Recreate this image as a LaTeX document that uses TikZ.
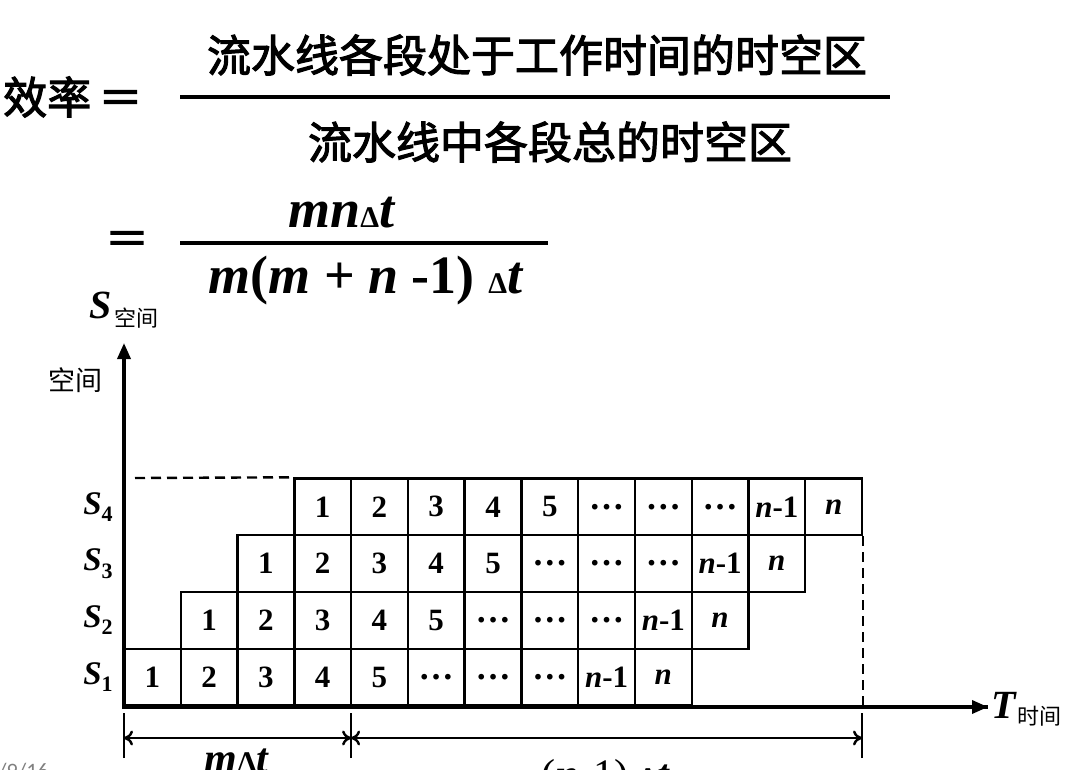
\documentclass[tikz,border=0pt]{standalone}
\usepackage{fontspec}
\setmainfont{Liberation Serif}
\newfontfamily\cjk{Noto Sans CJK SC}[FakeBold=2.5]
\newfontfamily\cjklight{Noto Sans CJK SC}
\newfontfamily\footfont{Carlito}
\usetikzlibrary{arrows.meta}
\newcommand{\vbi}[1]{\textbf{\textit{#1}}}
\newcommand{\dts}{{\fontsize{35}{36}\selectfont\bfseries …}}
\newcommand{\smd}{{\fontsize{30}{32}\selectfont\bfseries Δ}}

\begin{document}
\begin{tikzpicture}[x=1pt, y=-1pt,
    cell/.style={rectangle, draw, line width=2.4pt, minimum width=56.77pt, minimum height=56.75pt, inner sep=0pt, font=\fontsize{31}{34}\selectfont\bfseries},
    bigcjk/.style={font=\fontsize{44}{48}\selectfont\cjk, inner sep=0pt},
    smallcjk/.style={font=\fontsize{22}{24}\selectfont\cjklight, anchor=base west, inner sep=0pt},
    fracnum/.style={font=\fontsize{54}{58}\selectfont\bfseries, inner sep=0pt},
    stage/.style={font=\fontsize{33}{35}\selectfont, inner sep=0pt},
    axislabel/.style={font=\fontsize{40}{44}\selectfont, inner sep=0pt},
    dimlabel/.style={font=\fontsize{42}{44}\selectfont, inner sep=0pt, anchor=base},
    tick/.style={line width=2.4pt},
    dim/.style={line width=2.4pt, {To[length=9pt,width=15pt]}-{To[length=9pt,width=15pt]}}]
  \useasboundingbox (0,0) rectangle (1066,770);

  % efficiency formula
  \node[bigcjk, anchor=west] (eff) at (3,97) {效率\,＝};
  \coordinate (bar1l) at (180,97);
  \coordinate (bar1r) at (890,97);
  \draw[line width=4pt] (bar1l) -- (bar1r);
  \node[bigcjk] (num1) at (537,55) {流水线各段处于工作时间的时空区};
  \node[bigcjk] (den1) at (550,142) {流水线中各段总的时空区};

  \node[bigcjk] (eq2) at (127,243) {＝};
  \coordinate (bar2l) at (180,243);
  \coordinate (bar2r) at (548,243);
  \draw[line width=3.5pt] (bar2l) -- (bar2r);
  \node[fracnum, anchor=base] (num2) at (342,228) {\vbi{mn}\smd\vbi{t}};
  \node[fracnum, anchor=base] (den2) at (366,294) {\vbi{m}(\vbi{m} + \vbi{n} -1) \smd\vbi{t}};

  % axes
  \coordinate (O) at (124,707);
  \coordinate (ytip) at (124,343);
  \coordinate (xtip) at (988,707);
  \draw[line width=3.5pt, {Triangle[length=16pt,width=13pt]}-{Triangle[length=16pt,width=13pt]}] (ytip) -- (O) -- (xtip);
  \node[axislabel, anchor=base] (sax) at (101,318) {\vbi{S}};
  \node[smallcjk] (sspace) at (114,326) {空间};
  \node[font=\fontsize{27}{30}\selectfont\cjklight, inner sep=0pt] (space) at (75,380) {空间};
  \node[axislabel, anchor=base] (tax) at (1004,718) {\vbi{T}};
  \node[smallcjk] (ttime) at (1017,724) {时间};

  % space-time cells
  \foreach \r in {1,...,4} {
    \node[stage] (s\r) at (98,{705.5-56.75*(\r-0.5)}) {\vbi{S}\raisebox{-0.22em}{\fontsize{22}{24}\selectfont\bfseries\r}};
    \foreach \txt [count=\c from 0] in {1,2,3,4,5,{\dts},{\dts},{\dts},{\vbi{n}-1},{\vbi{n}}}
      \node[cell] (c\r-\c) at ({124+56.77*(\r-1+\c)+28.385},{705.5-56.75*(\r-0.5)}) {\txt};
  }
  \draw[line width=3.5pt] (O) -- (xtip);

  % dashed bounds
  \coordinate (dl) at (135,478);
  \draw[line width=2.4pt, dash pattern=on 10pt off 6pt] (dl) -- (c4-0.north west);
  \draw[line width=2.4pt, dash pattern=on 10pt off 6pt] (c4-9.south east) -- (c4-9.south east |- O);

  % time spans
  \coordinate (d0) at (124,738);
  \coordinate (d1) at (351.1,738);
  \coordinate (d2) at (862,738);
  \foreach \d in {d0,d1,d2}
    \draw[tick] ([yshift=-20pt]\d) -- ([yshift=25pt]\d);
  \draw[dim] (d0) -- (d1);
  \draw[dim] (d1) -- (d2);
  \node[dimlabel] (span1) at (237,772) {\vbi{m}\smd\vbi{t}};
  \node[dimlabel] (span2) at (606,788) {(\vbi{n}-1) \smd\vbi{t}};

  \node[font=\fontsize{22}{24}\selectfont\footfont, text=gray, anchor=base west, inner sep=0pt] (foot) at (-2,778) {/9/16};
\end{tikzpicture}
\end{document}
